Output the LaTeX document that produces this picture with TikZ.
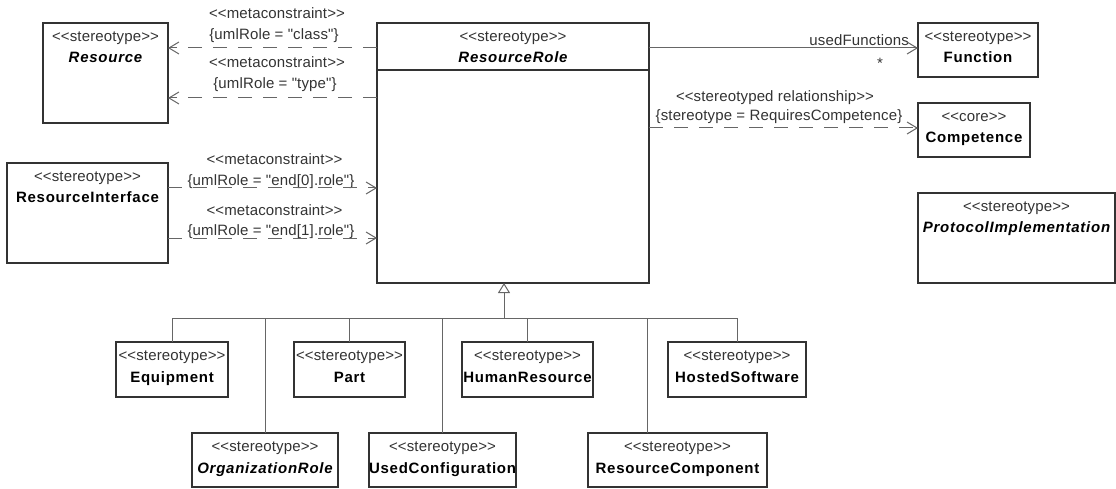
\documentclass[tikz,border=0pt]{standalone}
\usepackage{fontspec}
\setmainfont{Liberation Sans}
\newfontfamily\stf[LetterSpace=1]{Liberation Sans}
\newfontfamily\nmf[LetterSpace=5]{Liberation Sans}
\usetikzlibrary{arrows.meta,calc}
\definecolor{boxc}{HTML}{333333}
\definecolor{linec}{HTML}{666666}
\definecolor{txtc}{HTML}{333333}
\newcommand\ster[1]{<\kern0pt<#1>\kern0pt>}
\newcommand\umlcls[8]{%
  \node[umlbox,minimum width=#4pt,minimum height=#5pt] (#1) at (#2,#3) {};
  \node[st] (#1-st) at ($(#1.north)+(0,18.5)$) {#6};
  \node[#8] (#1-nm) at ($(#1.north)+(0,40)$) {#7};
}
\begin{document}
\begin{tikzpicture}[x=1pt,y=-1pt,
  umlbox/.style={draw=boxc,line width=1.2pt,inner sep=0pt,outer sep=0pt,fill=white},
  st/.style={anchor=base,inner sep=0pt,font=\stf\fontsize{15}{17}\selectfont,text=txtc},
  nm/.style={anchor=base,inner sep=0pt,font=\nmf\fontsize{15}{17}\selectfont\bfseries},
  nmi/.style={anchor=base,inner sep=0pt,font=\nmf\fontsize{15}{17}\selectfont\bfseries\itshape},
  lbl/.style={anchor=base,inner sep=0pt,font=\stf\fontsize{15}{17}\selectfont,text=txtc},
  boxline/.style={draw=boxc,line width=1.2pt},
  dep/.style={draw=linec,line width=1pt,dash pattern=on 14pt off 11pt,-{Straight Barb[length=10pt,width=12pt]}},
  assoc/.style={draw=linec,line width=1pt,-{Straight Barb[length=10pt,width=12pt]}},
  gline/.style={draw=linec,line width=1pt},
  gen/.style={draw=linec,line width=1pt,-{Triangle[open,length=10pt,width=12pt]}}
]
\useasboundingbox (0,0) rectangle (1116,489);

% classes
\umlcls{res}{105.5}{73}{125}{100}{\ster{stereotype}}{Resource}{nmi}
\umlcls{rr}{513}{153}{272}{260}{\ster{stereotype}}{ResourceRole}{nmi}
\draw[boxline] ($(rr.north west)+(0,47)$) -- ($(rr.north east)+(0,47)$);
\umlcls{ri}{87.5}{213}{161}{100}{\ster{stereotype}}{ResourceInterface}{nm}
\umlcls{fn}{978}{50}{120}{54}{\ster{stereotype}}{Function}{nm}
\umlcls{comp}{974}{130}{112}{54}{\ster{core}}{Competence}{nm}
\umlcls{proto}{1016.5}{238}{197}{90}{\ster{stereotype}}{ProtocolImplementation}{nmi}

\umlcls{eq}{172}{369.5}{112}{55}{\ster{stereotype}}{Equipment}{nm}
\umlcls{part}{349.5}{369.5}{111}{55}{\ster{stereotype}}{Part}{nm}
\umlcls{hr}{527.5}{369.5}{131}{55}{\ster{stereotype}}{HumanResource}{nm}
\umlcls{hs}{737}{369.5}{138}{55}{\ster{stereotype}}{HostedSoftware}{nm}
\umlcls{org}{265}{460}{146}{54}{\ster{stereotype}}{OrganizationRole}{nmi}
\umlcls{uc}{442.5}{460}{147}{54}{\ster{stereotype}}{UsedConfiguration}{nm}
\umlcls{rc}{677.5}{460}{179}{54}{\ster{stereotype}}{ResourceComponent}{nm}

% labels
\node[lbl] (l1a) at (277,19) {\ster{metaconstraint}};
\node[lbl] (l1b) at (274,40) {\{umlRole = "class"\}};
\node[lbl] (l2a) at (277,68) {\ster{metaconstraint}};
\node[lbl] (l2b) at (275,89) {\{umlRole = "type"\}};
\node[lbl] (l3a) at (274.5,165) {\ster{metaconstraint}};
\node[lbl] (l3b) at (271,185.5) {\{umlRole = "end[0].role"\}};
\node[lbl] (l4a) at (274.5,215) {\ster{metaconstraint}};
\node[lbl] (l4b) at (271,235) {\{umlRole = "end[1].role"\}};
\node[lbl,anchor=base east] (uf) at (909,45.5) {usedFunctions};
\node[lbl] (mult) at (880,69) {*};
\node[lbl] (sr1) at (775,101.5) {\ster{stereotyped relationship}};
\node[lbl] (sr2) at (779,120.5) {\{stereotype = RequiresCompetence\}};

% connectors
\draw[dep] ($(rr.west |- res.east)+(0,-25)$) -- ($(res.east)+(0,-25)$);
\draw[dep] ($(rr.west |- res.east)+(0,25)$) -- ($(res.east)+(0,25)$);
\draw[dep] ($(ri.east)+(0,-25)$) -- ($(rr.west |- ri.east)+(0,-25)$);
\draw[dep] ($(ri.east)+(0,25)$) -- ($(rr.west |- ri.east)+(0,25)$);
\draw[assoc] ($(rr.east |- fn.west)+(0,-2)$) -- ($(fn.west)+(0,-2)$);
\draw[dep] ($(rr.east |- comp.west)+(0,-2)$) -- ($(comp.west)+(0,-2)$);

% generalization
\coordinate (j) at ($(rr.south west)+(127,35)$);
\draw[gline] (eq.north) -- (eq.north |- j) -| (hs.north);
\foreach \n in {part,hr,org,uc} \draw[gline] (\n.north) -- (\n.north |- j);
\draw[gline] ($(rc.north west)+(59,0)$) -- ($(rc.north west |- j)+(59,0)$);
\draw[gen] (j) -- (j |- rr.south);
\end{tikzpicture}
\end{document}
